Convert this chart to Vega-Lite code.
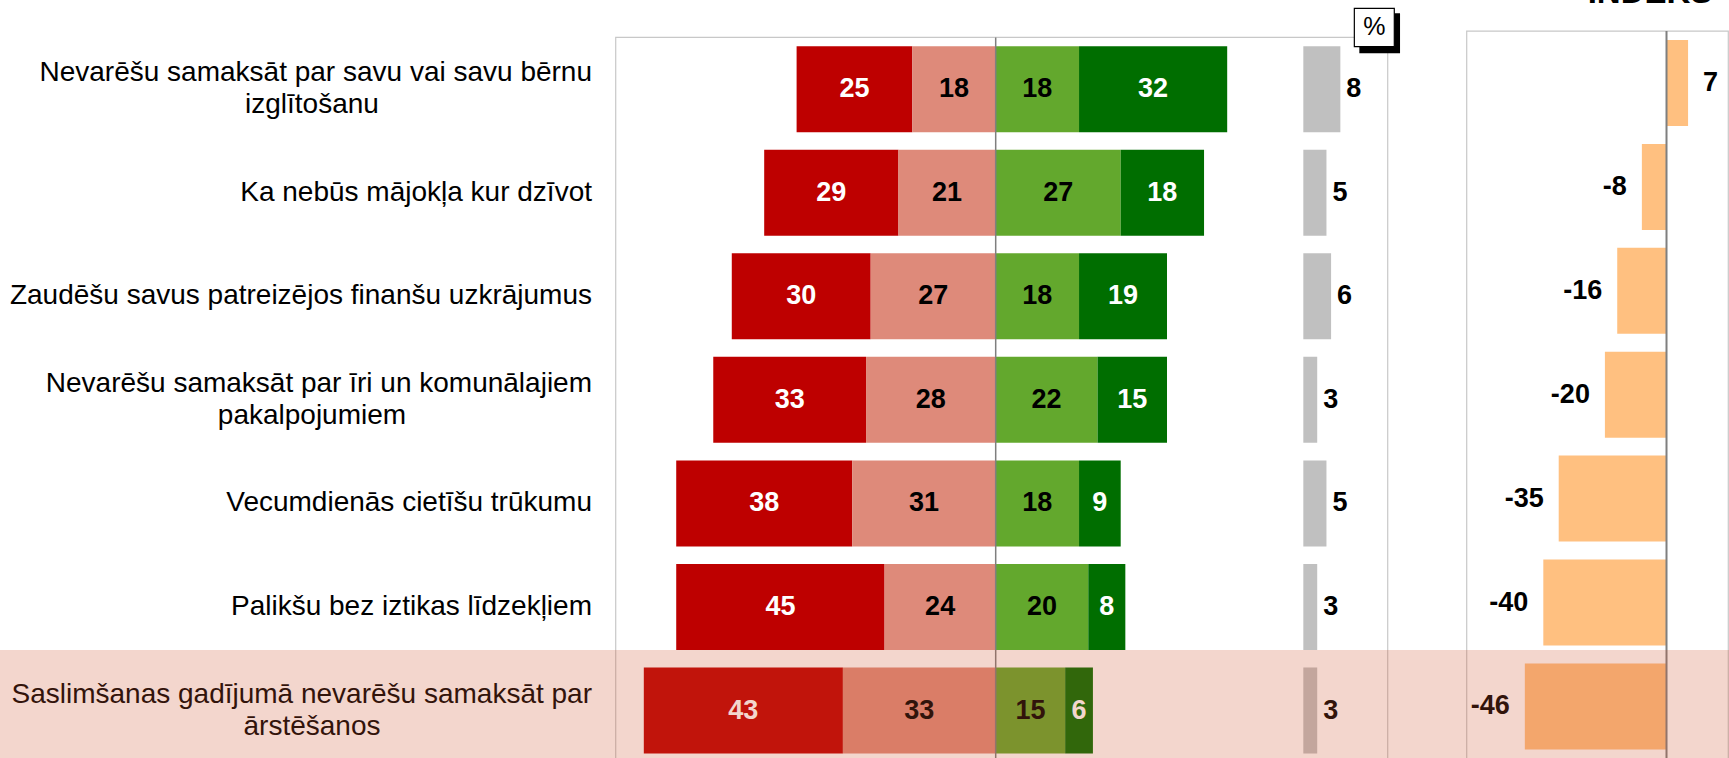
{
  "$schema": "https://vega.github.io/schema/vega-lite/v6.json",
  "width": 1729,
  "height": 758,
  "autosize": {"type": "none"},
  "padding": 0,
  "background": "white",
  "config": {"view": {"stroke": null}, "scale": {"continuousPadding": 0}},
  "datasets": {
    "rows": [
      {"r": 1, "l1": "Nevarēšu samaksāt par savu vai savu bērnu", "l2": "izglītošanu", "dk": 8, "idx": 7},
      {"r": 2, "l1": "Ka nebūs mājokļa kur dzīvot", "l2": "", "dk": 5, "idx": -8},
      {"r": 3, "l1": "Zaudēšu savus patreizējos finanšu uzkrājumus", "l2": "", "dk": 6, "idx": -16},
      {"r": 4, "l1": "Nevarēšu samaksāt par īri un komunālajiem", "l2": "pakalpojumiem", "dk": 3, "idx": -20},
      {"r": 5, "l1": "Vecumdienās cietīšu trūkumu\u00a0", "l2": "", "dk": 5, "idx": -35},
      {"r": 6, "l1": "Palikšu bez iztikas līdzekļiem", "l2": "", "dk": 3, "idx": -40},
      {"r": 7, "l1": "Saslimšanas gadījumā nevarēšu samaksāt par", "l2": "ārstēšanos", "dk": 3, "idx": -46}
    ],
    "seg": [
      {"r": 1, "t": "r", "o": 2, "v": -25, "n": 25},
      {"r": 1, "t": "p", "o": 1, "v": -18, "n": 18},
      {"r": 1, "t": "g", "o": 1, "v": 18, "n": 18},
      {"r": 1, "t": "d", "o": 2, "v": 32, "n": 32},
      {"r": 2, "t": "r", "o": 2, "v": -29, "n": 29},
      {"r": 2, "t": "p", "o": 1, "v": -21, "n": 21},
      {"r": 2, "t": "g", "o": 1, "v": 27, "n": 27},
      {"r": 2, "t": "d", "o": 2, "v": 18, "n": 18},
      {"r": 3, "t": "r", "o": 2, "v": -30, "n": 30},
      {"r": 3, "t": "p", "o": 1, "v": -27, "n": 27},
      {"r": 3, "t": "g", "o": 1, "v": 18, "n": 18},
      {"r": 3, "t": "d", "o": 2, "v": 19, "n": 19},
      {"r": 4, "t": "r", "o": 2, "v": -33, "n": 33},
      {"r": 4, "t": "p", "o": 1, "v": -28, "n": 28},
      {"r": 4, "t": "g", "o": 1, "v": 22, "n": 22},
      {"r": 4, "t": "d", "o": 2, "v": 15, "n": 15},
      {"r": 5, "t": "r", "o": 2, "v": -38, "n": 38},
      {"r": 5, "t": "p", "o": 1, "v": -31, "n": 31},
      {"r": 5, "t": "g", "o": 1, "v": 18, "n": 18},
      {"r": 5, "t": "d", "o": 2, "v": 9, "n": 9},
      {"r": 6, "t": "r", "o": 2, "v": -45, "n": 45},
      {"r": 6, "t": "p", "o": 1, "v": -24, "n": 24},
      {"r": 6, "t": "g", "o": 1, "v": 20, "n": 20},
      {"r": 6, "t": "d", "o": 2, "v": 8, "n": 8},
      {"r": 7, "t": "r", "o": 2, "v": -43, "n": 43},
      {"r": 7, "t": "p", "o": 1, "v": -33, "n": 33},
      {"r": 7, "t": "g", "o": 1, "v": 15, "n": 15},
      {"r": 7, "t": "d", "o": 2, "v": 6, "n": 6}
    ],
    "one": [{}]
  },
  "resolve": {"scale": {"x": "independent", "y": "independent", "color": "independent"}},
  "layer": [
    {
      "data": {"name": "one"},
      "mark": {"type": "rect", "fill": "white", "fillOpacity": 0, "stroke": "#C8C8C8", "strokeWidth": 1.2},
      "encoding": {
        "x": {"datum": -82.07, "type": "quantitative", "scale": {"domain": [-215.05, 158.38], "nice": false, "padding": 0}, "axis": null},
        "x2": {"datum": 84.67},
        "y": {"datum": 0.5, "type": "quantitative", "scale": {"domain": [0.1386, 7.4587], "nice": false, "padding": 0, "reverse": true}, "axis": null},
        "y2": {"datum": 7.6}
      }
    },
    {
      "data": {"name": "one"},
      "mark": {"type": "rect", "fill": "white", "fillOpacity": 0, "stroke": "#C8C8C8", "strokeWidth": 1.2},
      "encoding": {
        "x": {"datum": -64.87, "type": "quantitative", "scale": {"domain": [-541.07, 20.29], "nice": false, "padding": 0}, "axis": null},
        "x2": {"datum": 20.06},
        "y": {"datum": 0.5, "type": "quantitative", "scale": {"domain": [0.2012, 7.4966], "nice": false, "padding": 0, "reverse": true}, "axis": null},
        "y2": {"datum": 7.6}
      }
    },
    {
      "data": {"name": "seg"},
      "mark": {"type": "bar", "orient": "horizontal", "height": 86},
      "encoding": {
        "x": {"field": "v", "type": "quantitative", "stack": "zero", "scale": {"domain": [-215.05, 158.38], "nice": false, "padding": 0}, "axis": null},
        "y": {"field": "r", "type": "quantitative", "scale": {"domain": [0.1386, 7.4587], "nice": false, "padding": 0, "reverse": true}, "axis": null},
        "color": {"field": "t", "type": "nominal", "scale": {"domain": ["r", "p", "g", "d"], "range": ["#BE0000", "#DE8A7A", "#63A82D", "#006E00"]}, "legend": null},
        "order": {"field": "o", "type": "quantitative"}
      }
    },
    {
      "data": {"name": "seg"},
      "mark": {"type": "text", "font": "Liberation Sans", "fontSize": 27, "fontWeight": "bold", "align": "center", "baseline": "middle"},
      "encoding": {
        "x": {"field": "v", "type": "quantitative", "stack": "zero", "bandPosition": 0.5, "scale": {"domain": [-215.05, 158.38], "nice": false, "padding": 0}, "axis": null},
        "y": {"field": "r", "type": "quantitative", "scale": {"domain": [0.1386, 7.4587], "nice": false, "padding": 0, "reverse": true}, "axis": null},
        "detail": {"field": "t", "type": "nominal"},
        "order": {"field": "o", "type": "quantitative"},
        "text": {"field": "n", "type": "quantitative"},
        "color": {"condition": {"test": "datum.t == 'r' || datum.t == 'd'", "value": "white"}, "value": "black"}
      }
    },
    {
      "data": {"name": "one"},
      "mark": {"type": "rule", "stroke": "#7F7F7F", "strokeWidth": 1.5},
      "encoding": {
        "x": {"datum": 0, "type": "quantitative", "scale": {"domain": [-215.05, 158.38], "nice": false, "padding": 0}, "axis": null},
        "y": {"datum": 0.5, "type": "quantitative", "scale": {"domain": [0.1386, 7.4587], "nice": false, "padding": 0, "reverse": true}, "axis": null},
        "y2": {"datum": 7.6}
      }
    },
    {
      "data": {"name": "rows"},
      "mark": {"type": "bar", "orient": "horizontal", "height": 86, "color": "#C0C0C0"},
      "encoding": {
        "x": {"field": "dk", "type": "quantitative", "scale": {"domain": [-281.49, 91.94], "nice": false, "padding": 0}, "axis": null},
        "y": {"field": "r", "type": "quantitative", "scale": {"domain": [0.1386, 7.4587], "nice": false, "padding": 0, "reverse": true}, "axis": null}
      }
    },
    {
      "data": {"name": "rows"},
      "mark": {"type": "text", "font": "Liberation Sans", "fontSize": 27, "fontWeight": "bold", "align": "left", "baseline": "middle", "dx": 6, "color": "black"},
      "encoding": {
        "x": {"field": "dk", "type": "quantitative", "scale": {"domain": [-281.49, 91.94], "nice": false, "padding": 0}, "axis": null},
        "y": {"field": "r", "type": "quantitative", "scale": {"domain": [0.1386, 7.4587], "nice": false, "padding": 0, "reverse": true}, "axis": null},
        "text": {"field": "dk", "type": "quantitative"}
      }
    },
    {
      "data": {"name": "rows"},
      "mark": {"type": "bar", "orient": "horizontal", "height": 86, "color": "#FFC080"},
      "encoding": {
        "x": {"field": "idx", "type": "quantitative", "scale": {"domain": [-541.07, 20.29], "nice": false, "padding": 0}, "axis": null},
        "y": {"field": "r", "type": "quantitative", "scale": {"domain": [0.2012, 7.4966], "nice": false, "padding": 0, "reverse": true}, "axis": null}
      }
    },
    {
      "data": {"name": "one"},
      "mark": {"type": "rule", "stroke": "#7F7F7F", "strokeWidth": 2},
      "encoding": {
        "x": {"datum": 0, "type": "quantitative", "scale": {"domain": [-541.07, 20.29], "nice": false, "padding": 0}, "axis": null},
        "y": {"datum": 0.5, "type": "quantitative", "scale": {"domain": [0.2012, 7.4966], "nice": false, "padding": 0, "reverse": true}, "axis": null},
        "y2": {"datum": 7.6}
      }
    },
    {
      "data": {"name": "rows"},
      "transform": [{"filter": "datum.idx < 0"}],
      "mark": {"type": "text", "font": "Liberation Sans", "fontSize": 27, "fontWeight": "bold", "align": "right", "baseline": "middle", "dx": -15, "color": "black"},
      "encoding": {
        "x": {"field": "idx", "type": "quantitative", "scale": {"domain": [-541.07, 20.29], "nice": false, "padding": 0}, "axis": null},
        "y": {"field": "r", "type": "quantitative", "scale": {"domain": [0.2012, 7.4966], "nice": false, "padding": 0, "reverse": true}, "axis": null},
        "text": {"field": "idx", "type": "nominal"}
      }
    },
    {
      "data": {"name": "rows"},
      "transform": [{"filter": "datum.idx >= 0"}],
      "mark": {"type": "text", "font": "Liberation Sans", "fontSize": 27, "fontWeight": "bold", "align": "left", "baseline": "middle", "dx": 15, "color": "black"},
      "encoding": {
        "x": {"field": "idx", "type": "quantitative", "scale": {"domain": [-541.07, 20.29], "nice": false, "padding": 0}, "axis": null},
        "y": {"field": "r", "type": "quantitative", "scale": {"domain": [0.2012, 7.4966], "nice": false, "padding": 0, "reverse": true}, "axis": null},
        "text": {"field": "idx", "type": "nominal"}
      }
    },
    {
      "data": {"name": "rows"},
      "transform": [{"filter": "datum.l2 == ''"}],
      "mark": {"type": "text", "font": "Liberation Sans", "fontSize": 28, "align": "right", "baseline": "middle", "color": "black"},
      "encoding": {
        "x": {"datum": -87.19, "type": "quantitative", "scale": {"domain": [-215.05, 158.38], "nice": false, "padding": 0}, "axis": null},
        "y": {"field": "r", "type": "quantitative", "scale": {"domain": [0.1386, 7.4587], "nice": false, "padding": 0, "reverse": true}, "axis": null},
        "text": {"field": "l1", "type": "nominal"}
      }
    },
    {
      "data": {"name": "rows"},
      "transform": [{"filter": "datum.l2 != ''"}],
      "mark": {"type": "text", "font": "Liberation Sans", "fontSize": 28, "align": "right", "baseline": "middle", "dy": -16, "color": "black"},
      "encoding": {
        "x": {"datum": -87.19, "type": "quantitative", "scale": {"domain": [-215.05, 158.38], "nice": false, "padding": 0}, "axis": null},
        "y": {"field": "r", "type": "quantitative", "scale": {"domain": [0.1386, 7.4587], "nice": false, "padding": 0, "reverse": true}, "axis": null},
        "text": {"field": "l1", "type": "nominal"}
      }
    },
    {
      "data": {"name": "rows"},
      "transform": [{"filter": "datum.l2 != ''"}],
      "mark": {"type": "text", "font": "Liberation Sans", "fontSize": 28, "align": "center", "baseline": "middle", "dy": 16, "color": "black"},
      "encoding": {
        "x": {"datum": -147.67, "type": "quantitative", "scale": {"domain": [-215.05, 158.38], "nice": false, "padding": 0}, "axis": null},
        "y": {"field": "r", "type": "quantitative", "scale": {"domain": [0.1386, 7.4587], "nice": false, "padding": 0, "reverse": true}, "axis": null},
        "text": {"field": "l2", "type": "nominal"}
      }
    },
    {
      "data": {"name": "one"},
      "mark": {"type": "rect", "fill": "black"},
      "encoding": {
        "x": {"datum": 12.10, "type": "quantitative", "scale": {"domain": [-281.49, 91.94], "nice": false, "padding": 0}, "axis": null},
        "x2": {"datum": 20.89},
        "y": {"datum": 0.267, "type": "quantitative", "scale": {"domain": [0.1386, 7.4587], "nice": false, "padding": 0, "reverse": true}, "axis": null},
        "y2": {"datum": 0.653}
      }
    },
    {
      "data": {"name": "one"},
      "mark": {"type": "rect", "fill": "white", "stroke": "black", "strokeWidth": 1.2},
      "encoding": {
        "x": {"datum": 11.02, "type": "quantitative", "scale": {"domain": [-281.49, 91.94], "nice": false, "padding": 0}, "axis": null},
        "x2": {"datum": 19.65},
        "y": {"datum": 0.2187, "type": "quantitative", "scale": {"domain": [0.1386, 7.4587], "nice": false, "padding": 0, "reverse": true}, "axis": null},
        "y2": {"datum": 0.5896}
      }
    },
    {
      "data": {"name": "one"},
      "mark": {"type": "text", "text": "%", "font": "Liberation Sans", "fontSize": 25, "align": "center", "baseline": "middle", "color": "black"},
      "encoding": {
        "x": {"datum": 15.33, "type": "quantitative", "scale": {"domain": [-281.49, 91.94], "nice": false, "padding": 0}, "axis": null},
        "y": {"datum": 0.404, "type": "quantitative", "scale": {"domain": [0.1386, 7.4587], "nice": false, "padding": 0, "reverse": true}, "axis": null}
      }
    },
    {
      "data": {"name": "one"},
      "mark": {"type": "text", "text": "INDEKS", "font": "Liberation Sans", "fontSize": 33, "fontWeight": "bold", "align": "center", "baseline": "alphabetic", "color": "black"},
      "encoding": {
        "x": {"datum": -5.36, "type": "quantitative", "scale": {"domain": [-541.07, 20.29], "nice": false, "padding": 0}, "axis": null},
        "y": {"datum": 0.2348, "type": "quantitative", "scale": {"domain": [0.2012, 7.4966], "nice": false, "padding": 0, "reverse": true}, "axis": null}
      }
    },
    {
      "data": {"name": "one"},
      "mark": {"type": "rect", "fill": "rgb(205,84,47)", "opacity": 0.24},
      "encoding": {
        "x": {"datum": -215.05, "type": "quantitative", "scale": {"domain": [-215.05, 158.38], "nice": false, "padding": 0}, "axis": null},
        "x2": {"datum": 158.38},
        "y": {"datum": 6.4157, "type": "quantitative", "scale": {"domain": [0.1386, 7.4587], "nice": false, "padding": 0, "reverse": true}, "axis": null},
        "y2": {"datum": 7.6}
      }
    }
  ]
}
